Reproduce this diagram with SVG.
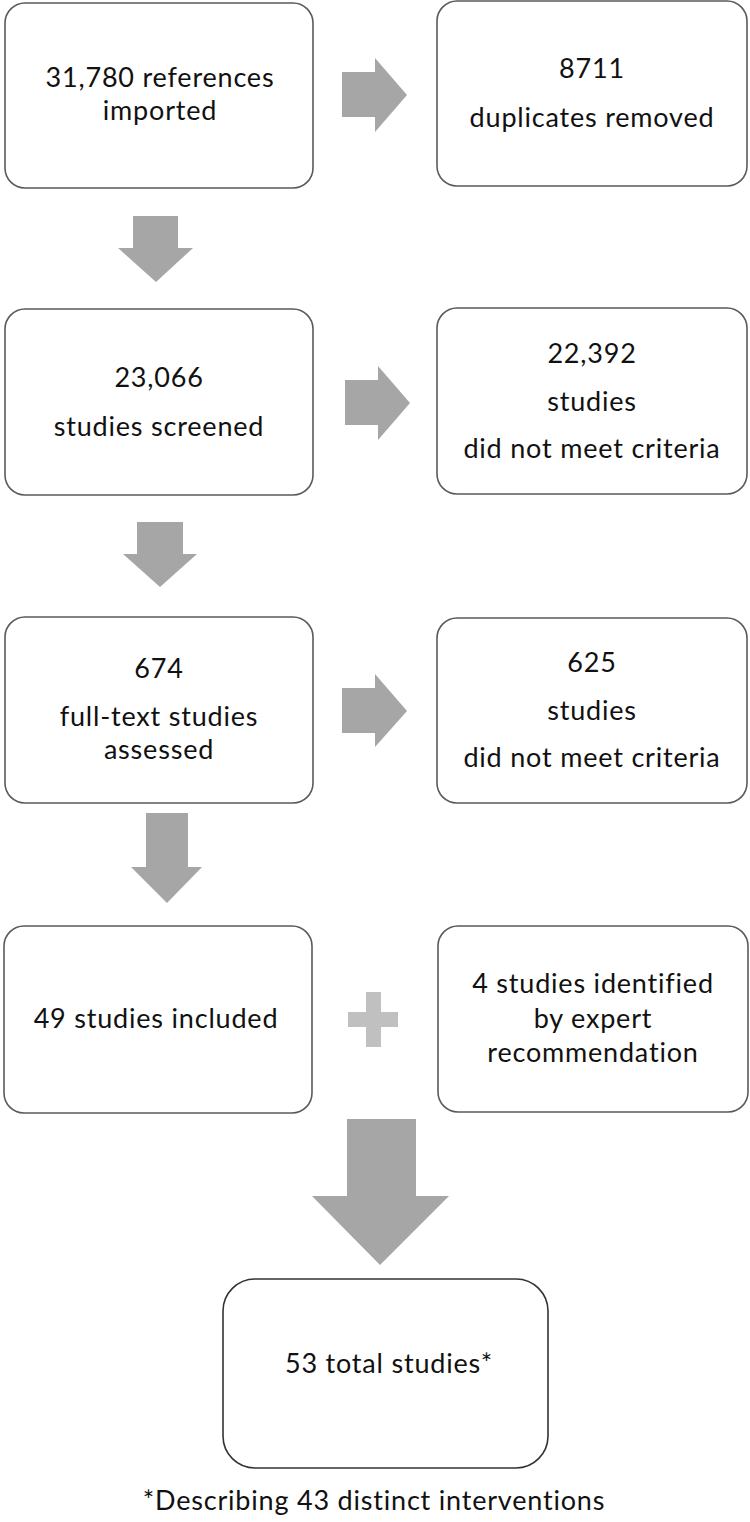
<svg xmlns="http://www.w3.org/2000/svg" width="750" height="1522" viewBox="0 0 750 1522">
<style>
.box{fill:#fff;stroke:#5a5a5a;stroke-width:1.6}
.fin{fill:#fff;stroke:#333;stroke-width:1.6}
.arr{fill:#a6a6a6}
.plus{fill:#c0c0c0}
text{font-family:Lato,"Open Sans",sans-serif;font-size:27px;letter-spacing:0.8px;fill:#111;text-anchor:middle}
</style>
<rect width="750" height="1522" fill="#fff"/>
<g id="connectors">
<path class="arr" d="M342,72H375V58L407,95L375,132V117H342Z"/>
<path class="arr" d="M345,380H378V366L410,403L378,440V425H345Z"/>
<path class="arr" d="M342,688H375V674L407,711L375,747V733H342Z"/>
<path class="arr" d="M133,216H178V248H193L156,282L118,248H133Z"/>
<path class="arr" d="M137,522H183V554H197L160,587L123,554H137Z"/>
<path class="arr" d="M146,813H188V867H202L167,903L131,867H146Z"/>
<path class="arr" d="M347,1119H416V1196H449L380,1265L312,1196H347Z"/>
<path class="plus" d="M366,992H381V1012H398V1027H381V1047H366V1027H348V1012H366Z"/>
</g>
<g id="n1"><rect class="box" x="5" y="3" width="308" height="185" rx="20"/>
<text x="160" y="87">31,780 references</text><text x="160" y="120">imported</text></g>
<g id="n2"><rect class="box" x="437" y="1" width="310" height="185" rx="20"/>
<text x="592" y="78">8711</text><text x="592" y="127">duplicates removed</text></g>
<g id="n3"><rect class="box" x="5" y="309" width="308" height="186" rx="20"/>
<text x="159" y="387">23,066</text><text x="159" y="436">studies screened</text></g>
<g id="n4"><rect class="box" x="437" y="308" width="310" height="186" rx="20"/>
<text x="592" y="363">22,392</text><text x="592" y="411">studies</text><text x="592" y="458">did not meet criteria</text></g>
<g id="n5"><rect class="box" x="5" y="617" width="308" height="186" rx="20"/>
<text x="159" y="678">674</text><text x="159" y="726">full-text studies</text><text x="159" y="759">assessed</text></g>
<g id="n6"><rect class="box" x="437" y="618" width="310" height="185" rx="20"/>
<text x="592" y="672">625</text><text x="592" y="720">studies</text><text x="592" y="767">did not meet criteria</text></g>
<g id="n7"><rect class="box" x="4" y="926" width="308" height="187" rx="20"/>
<text x="156" y="1028">49 studies included</text></g>
<g id="n8"><rect class="box" x="438" y="926" width="310" height="186" rx="20"/>
<text x="593" y="993">4 studies identified</text><text x="593" y="1028">by expert</text><text x="593" y="1062">recommendation</text></g>
<g id="n9"><rect class="fin" x="223" y="1279" width="325" height="189" rx="32"/>
<text x="389" y="1373">53 total studies*</text></g>
<g id="note"><text x="374" y="1510">*Describing 43 distinct interventions</text></g>
</svg>
